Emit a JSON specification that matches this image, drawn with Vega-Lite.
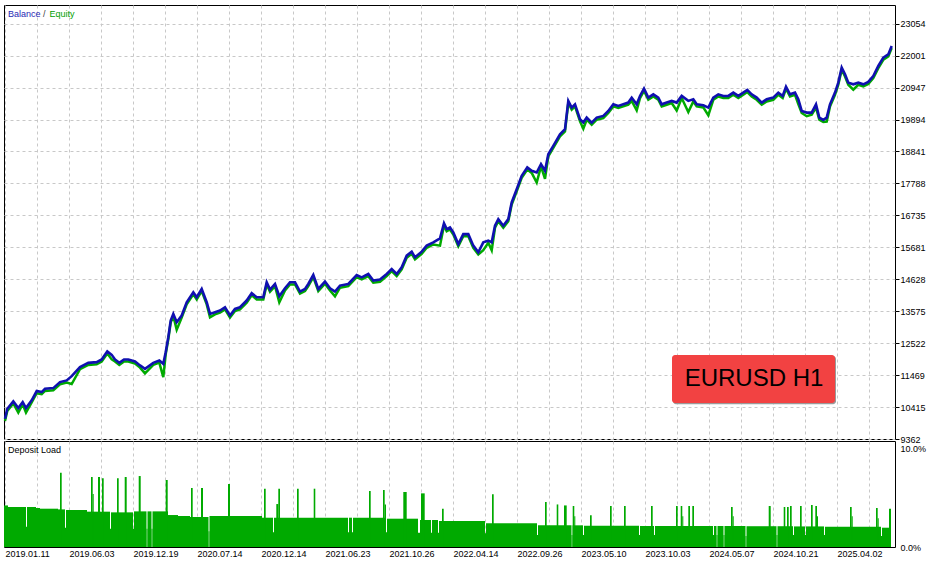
{
  "$schema": "https://vega.github.io/schema/vega-lite/v6.json",
  "padding": {"left": -1, "top": 4, "right": 0, "bottom": 0},
  "background": "white",
  "spacing": 2,
  "bounds": "flush",
  "config": {
    "view": {"stroke": "#000000", "strokeWidth": 1},
    "axis": {"labelFont": "Liberation Sans", "labelFontSize": 9, "labelColor": "#000000", "titleFont": "Liberation Sans", "labelOverlap": false},
    "text": {"font": "Liberation Sans"}
  },
  "datasets": {
    "curve": [
      {"n":5,"balance":10030,"equity":9960},{"n":7.3,"balance":10359,"equity":10289},{"n":13.3,"balance":10603,"equity":10533},{"n":18.3,"balance":10382,"equity":10232},{"n":22.7,"balance":10580,"equity":10510},{"n":26,"balance":10382,"equity":10232},{"n":31.7,"balance":10636,"equity":10566},{"n":36.7,"balance":10942,"equity":10872},{"n":41.7,"balance":10909,"equity":10839},{"n":45,"balance":11017,"equity":10947},{"n":53.3,"balance":11040,"equity":10970},{"n":60,"balance":11238,"equity":11168},{"n":66.7,"balance":11294,"equity":11224},{"n":71.7,"balance":11435,"equity":11175},{"n":80,"balance":11732,"equity":11662},{"n":88.3,"balance":11873,"equity":11803},{"n":96.7,"balance":11896,"equity":11826},{"n":101.7,"balance":11985,"equity":11915},{"n":107.3,"balance":12248,"equity":12178},{"n":111.7,"balance":12136,"equity":11986},{"n":115,"balance":11985,"equity":11915},{"n":119.3,"balance":11873,"equity":11803},{"n":124,"balance":11985,"equity":11915},{"n":128.3,"balance":11985,"equity":11915},{"n":135,"balance":11919,"equity":11849},{"n":140,"balance":11787,"equity":11717},{"n":145,"balance":11676,"equity":11526},{"n":153.3,"balance":11873,"equity":11803},{"n":159.3,"balance":11952,"equity":11882},{"n":163.3,"balance":11840,"equity":11400},{"n":165.7,"balance":12225,"equity":12155},{"n":168.3,"balance":12719,"equity":12649},{"n":170.7,"balance":13268,"equity":13198},{"n":173.3,"balance":13486,"equity":13416},{"n":176.7,"balance":13212,"equity":12962},{"n":181.7,"balance":13433,"equity":13363},{"n":186.7,"balance":13871,"equity":13801},{"n":193.3,"balance":14200,"equity":14130},{"n":196.7,"balance":14035,"equity":13965},{"n":201.7,"balance":14308,"equity":14238},{"n":206.7,"balance":13871,"equity":13801},{"n":210,"balance":13486,"equity":13376},{"n":215,"balance":13542,"equity":13472},{"n":220,"balance":13597,"equity":13527},{"n":225,"balance":13706,"equity":13636},{"n":230,"balance":13433,"equity":13363},{"n":235,"balance":13650,"equity":13580},{"n":240,"balance":13706,"equity":13636},{"n":246.7,"balance":13927,"equity":13857},{"n":251.7,"balance":14167,"equity":14097},{"n":256.7,"balance":14035,"equity":13965},{"n":263.3,"balance":14035,"equity":13965},{"n":266.7,"balance":14529,"equity":14459},{"n":270,"balance":14289,"equity":14219},{"n":275,"balance":14473,"equity":14403},{"n":279.3,"balance":14068,"equity":13868},{"n":285,"balance":14331,"equity":14261},{"n":290,"balance":14529,"equity":14459},{"n":295,"balance":14529,"equity":14459},{"n":300,"balance":14223,"equity":14153},{"n":305,"balance":14308,"equity":14238},{"n":308.3,"balance":14473,"equity":14403},{"n":313.3,"balance":14769,"equity":14699},{"n":318.3,"balance":14308,"equity":14238},{"n":325,"balance":14552,"equity":14482},{"n":330,"balance":14331,"equity":14261},{"n":335,"balance":14223,"equity":14068},{"n":340,"balance":14420,"equity":14350},{"n":348.3,"balance":14473,"equity":14403},{"n":356.7,"balance":14769,"equity":14699},{"n":361.7,"balance":14693,"equity":14623},{"n":368.3,"balance":14802,"equity":14732},{"n":373.3,"balance":14585,"equity":14515},{"n":380,"balance":14618,"equity":14548},{"n":386.7,"balance":14802,"equity":14732},{"n":391.7,"balance":14967,"equity":14897},{"n":396.7,"balance":14802,"equity":14732},{"n":401.7,"balance":15023,"equity":14953},{"n":406.7,"balance":15407,"equity":15337},{"n":411.7,"balance":15539,"equity":15469},{"n":415,"balance":15352,"equity":15282},{"n":421.7,"balance":15539,"equity":15469},{"n":426.7,"balance":15737,"equity":15667},{"n":433.3,"balance":15845,"equity":15775},{"n":440,"balance":15977,"equity":15737},{"n":444,"balance":16471,"equity":16401},{"n":446.7,"balance":16283,"equity":16213},{"n":450,"balance":16339,"equity":16269},{"n":453.3,"balance":16174,"equity":16104},{"n":458.3,"balance":15789,"equity":15719},{"n":463.3,"balance":16118,"equity":16048},{"n":468.3,"balance":16118,"equity":16048},{"n":473.3,"balance":15737,"equity":15667},{"n":478.3,"balance":15516,"equity":15446},{"n":483.3,"balance":15845,"equity":15585},{"n":488.3,"balance":15901,"equity":15831},{"n":491.7,"balance":15845,"equity":15585},{"n":495,"balance":16395,"equity":16325},{"n":498.3,"balance":16612,"equity":16542},{"n":503.3,"balance":16395,"equity":16325},{"n":508.3,"balance":16612,"equity":16542},{"n":511.7,"balance":17162,"equity":17092},{"n":516.7,"balance":17599,"equity":17529},{"n":521.7,"balance":18040,"equity":17970},{"n":527.3,"balance":18314,"equity":18244},{"n":531.7,"balance":18205,"equity":18135},{"n":536.7,"balance":18149,"equity":17820},{"n":541,"balance":18422,"equity":18352},{"n":545,"balance":18205,"equity":17940},{"n":548.3,"balance":18751,"equity":18681},{"n":553.3,"balance":19028,"equity":18958},{"n":560,"balance":19409,"equity":19339},{"n":565,"balance":19574,"equity":19504},{"n":568.3,"balance":20509,"equity":20439},{"n":571.7,"balance":20288,"equity":20218},{"n":575,"balance":20397,"equity":20327},{"n":580,"balance":19903,"equity":19833},{"n":583.3,"balance":19794,"equity":19594},{"n":586.7,"balance":19959,"equity":19889},{"n":591.7,"balance":19794,"equity":19724},{"n":596.7,"balance":19959,"equity":19889},{"n":603.3,"balance":20015,"equity":19945},{"n":608.3,"balance":20179,"equity":20109},{"n":613.3,"balance":20397,"equity":20327},{"n":618.3,"balance":20344,"equity":20274},{"n":623.3,"balance":20397,"equity":20327},{"n":628.3,"balance":20453,"equity":20383},{"n":631.7,"balance":20617,"equity":20507},{"n":636.7,"balance":20397,"equity":20197},{"n":640,"balance":20673,"equity":20603},{"n":644,"balance":20913,"equity":20843},{"n":648.3,"balance":20617,"equity":20547},{"n":653.3,"balance":20726,"equity":20656},{"n":658.3,"balance":20617,"equity":20547},{"n":661.7,"balance":20397,"equity":20327},{"n":666.7,"balance":20453,"equity":20383},{"n":671.7,"balance":20509,"equity":20439},{"n":676.7,"balance":20453,"equity":20193},{"n":681.7,"balance":20673,"equity":20603},{"n":688.3,"balance":20509,"equity":20139},{"n":693.3,"balance":20561,"equity":20491},{"n":696.7,"balance":20397,"equity":20327},{"n":703.3,"balance":20364,"equity":20294},{"n":708.3,"balance":20288,"equity":20035},{"n":713.3,"balance":20617,"equity":20547},{"n":718.3,"balance":20726,"equity":20656},{"n":723.3,"balance":20673,"equity":20603},{"n":728.3,"balance":20673,"equity":20603},{"n":733.3,"balance":20782,"equity":20712},{"n":738.3,"balance":20673,"equity":20603},{"n":743.3,"balance":20782,"equity":20712},{"n":747.3,"balance":20871,"equity":20801},{"n":751.7,"balance":20726,"equity":20656},{"n":756.7,"balance":20617,"equity":20547},{"n":761.7,"balance":20453,"equity":20383},{"n":766.7,"balance":20561,"equity":20491},{"n":773.3,"balance":20617,"equity":20547},{"n":778.3,"balance":20782,"equity":20712},{"n":782.7,"balance":20673,"equity":20603},{"n":786,"balance":20979,"equity":20909},{"n":790,"balance":20726,"equity":20656},{"n":795,"balance":20782,"equity":20712},{"n":798.3,"balance":20561,"equity":20401},{"n":801.7,"balance":20179,"equity":20109},{"n":806.7,"balance":20124,"equity":20004},{"n":811.7,"balance":20124,"equity":20054},{"n":816,"balance":20397,"equity":20287},{"n":819.3,"balance":19959,"equity":19889},{"n":823.3,"balance":19883,"equity":19813},{"n":826.7,"balance":19959,"equity":19828},{"n":830,"balance":20397,"equity":20327},{"n":835,"balance":20782,"equity":20712},{"n":838.3,"balance":21111,"equity":21041},{"n":841.7,"balance":21605,"equity":21535},{"n":845,"balance":21384,"equity":21314},{"n":848.3,"balance":21111,"equity":21041},{"n":853.3,"balance":21055,"equity":20880},{"n":858.3,"balance":21111,"equity":21041},{"n":863.3,"balance":21055,"equity":20985},{"n":868.3,"balance":21134,"equity":21064},{"n":873.3,"balance":21331,"equity":21261},{"n":878.3,"balance":21660,"equity":21590},{"n":883.3,"balance":21934,"equity":21864},{"n":888.3,"balance":22042,"equity":21972},{"n":891.7,"balance":22319,"equity":22249}
    ],
    "load": [
      {"a":4,"b":8,"load":4.2},{"a":8,"b":26,"load":4.04},{"a":26,"b":27,"load":2.05},{"a":27,"b":36,"load":4.04},{"a":36,"b":40,"load":3.94},{"a":40,"b":58,"load":3.87},{"a":58,"b":65,"load":3.8},{"a":65,"b":66,"load":1.95},{"a":66,"b":87,"load":3.74},{"a":87,"b":110,"load":3.57},{"a":110,"b":111,"load":1.85},{"a":111,"b":133,"load":3.5},{"a":133,"b":134,"load":1.85},{"a":134,"b":146.5,"load":3.6},{"a":146.5,"b":147.5,"load":1.85},{"a":147.5,"b":151.5,"load":3.6},{"a":151.5,"b":152.5,"load":1.85},{"a":152.5,"b":168,"load":3.6},{"a":168,"b":178,"load":3.23},{"a":178,"b":190,"load":3.13},{"a":190,"b":208.5,"load":3.03},{"a":208.5,"b":209.5,"load":1.6},{"a":209.5,"b":262,"load":3.13},{"a":262,"b":273,"load":2.96},{"a":273,"b":274,"load":1.5},{"a":274,"b":348,"load":2.96},{"a":348,"b":349,"load":1.5},{"a":349,"b":352,"load":2.96},{"a":352,"b":353,"load":1.5},{"a":353,"b":386,"load":2.96},{"a":386,"b":387,"load":1.5},{"a":387,"b":418,"load":2.86},{"a":418,"b":420,"load":1.45},{"a":420,"b":431,"load":2.73},{"a":431,"b":432,"load":1.45},{"a":432,"b":438,"load":2.73},{"a":438,"b":439,"load":1.45},{"a":439,"b":485,"load":2.63},{"a":485,"b":486,"load":1.4},{"a":486,"b":537,"load":2.39},{"a":537,"b":538,"load":1.2},{"a":538,"b":571.5,"load":2.19},{"a":571.5,"b":572.5,"load":1.2},{"a":572.5,"b":583,"load":2.19},{"a":583,"b":584,"load":1.2},{"a":584,"b":639,"load":2.15},{"a":639,"b":640,"load":1.2},{"a":640,"b":654,"load":2.12},{"a":654,"b":655,"load":1.2},{"a":655,"b":713,"load":2.12},{"a":713,"b":714,"load":1.2},{"a":714,"b":716.5,"load":2.12},{"a":716.5,"b":717.5,"load":1.2},{"a":717.5,"b":723.5,"load":2.12},{"a":723.5,"b":724.5,"load":1.2},{"a":724.5,"b":745.5,"load":2.12},{"a":745.5,"b":746.5,"load":1.1},{"a":746.5,"b":776.5,"load":2.1},{"a":776.5,"b":777.5,"load":1.2},{"a":777.5,"b":793,"load":2.1},{"a":793,"b":794,"load":1.2},{"a":794,"b":805,"load":2.08},{"a":805,"b":806,"load":1.2},{"a":806,"b":824,"load":2.08},{"a":824,"b":825,"load":1.2},{"a":825,"b":881,"load":2.05},{"a":881,"b":882,"load":1.1},{"a":882,"b":889,"load":1.95},{"a":889,"b":891,"load":3.87},
      {"a":60,"b":61.7,"load":7.5},{"a":91,"b":92.7,"load":7.07},{"a":92.7,"b":93.7,"load":5.35},{"a":98,"b":100,"load":7.07},{"a":102,"b":103.7,"load":6.94},{"a":117,"b":118.7,"load":6.94},{"a":124.7,"b":126.7,"load":7.07},{"a":138.7,"b":140.7,"load":7.17},{"a":165.7,"b":167.7,"load":6.77},{"a":191,"b":192.7,"load":5.96},{"a":201,"b":203,"load":5.96},{"a":228,"b":230,"load":6.36},{"a":264,"b":265.7,"load":5.89},{"a":276.3,"b":278.3,"load":4.34},{"a":278.3,"b":280,"load":5.89},{"a":297,"b":298.7,"load":5.89},{"a":313.7,"b":315.3,"load":5.89},{"a":369,"b":370.7,"load":5.65},{"a":383,"b":384.7,"load":5.76},{"a":384.7,"b":386,"load":4.3},{"a":403.3,"b":406.7,"load":5.56},{"a":421,"b":424.7,"load":5.42},{"a":442,"b":443.7,"load":3.87},{"a":492,"b":493.7,"load":5.32},{"a":545,"b":546.7,"load":4.55},{"a":556.7,"b":558.3,"load":4.3},{"a":564,"b":566.7,"load":4.2},{"a":572.7,"b":574.3,"load":4.14},{"a":574.3,"b":575.3,"load":3.1},{"a":590,"b":591.7,"load":3.2},{"a":610,"b":611.7,"load":4.14},{"a":624,"b":625.7,"load":4.14},{"a":651,"b":652.7,"load":4.14},{"a":676,"b":677.7,"load":4.14},{"a":680.7,"b":682.3,"load":4.14},{"a":682.3,"b":683.3,"load":3.1},{"a":688.3,"b":690,"load":4.14},{"a":692.3,"b":694,"load":4.14},{"a":731,"b":732.7,"load":4.04},{"a":732.7,"b":733.7,"load":3.1},{"a":768.7,"b":770.7,"load":4.14},{"a":783.7,"b":785.3,"load":4.04},{"a":787,"b":788.7,"load":4.04},{"a":790,"b":791.7,"load":4.14},{"a":800,"b":801.7,"load":4.14},{"a":811,"b":812.7,"load":4.24},{"a":815.3,"b":817,"load":4.14},{"a":817,"b":818,"load":3.1},{"a":850,"b":851.7,"load":4.04},{"a":851.7,"b":852.7,"load":3.1},{"a":876,"b":877.7,"load":3.94},{"a":877.7,"b":878.7,"load":2.9}
    ]
  },
  "vconcat": [
    {
      "width": 891,
      "height": 434,
      "layer": [
        {
          "data": {"name": "curve"},
          "mark": {"type": "line", "color": "#00aa00", "strokeWidth": 2.5},
          "encoding": {
            "x": {"field": "n", "type": "quantitative", "scale": {"domain": [4, 895], "nice": false, "zero": false},
              "axis": {"title": null, "values": [5,37,69,101,133,165,197,229,261,293,325,357,389,421,453,485,517,549,581,613,645,677,709,741,773,805,837,869], "tickCount": 60, "grid": true, "gridDash": [3,3], "gridColor": "#c8c8c8", "labels": false, "ticks": false, "domain": false}},
            "y": {"field": "equity", "type": "quantitative", "scale": {"domain": [9362, 23671], "nice": false, "zero": false},
              "axis": {"title": null, "orient": "right", "values": [9362,10415,11469,12522,13575,14628,15681,16735,17788,18841,19894,20947,22001,23054], "tickCount": 40, "format": "d", "grid": true, "gridDash": [3,3], "gridColor": "#c8c8c8", "domain": false, "tickSize": 4, "tickColor": "#000000", "labelPadding": 1, "labelOverlap": false, "labelFlush": false, "labelBound": false}}
          }
        },
        {
          "data": {"name": "curve"},
          "mark": {"type": "line", "color": "#1010b0", "strokeWidth": 2.6},
          "encoding": {
            "x": {"field": "n", "type": "quantitative"},
            "y": {"field": "balance", "type": "quantitative"}
          }
        },
        {
          "data": {"values": [{"label": "EURUSD H1"}]},
          "mark": {"type": "rect", "color": "#9a9a9a", "cornerRadius": 3},
          "encoding": {"x": {"datum": 673}, "x2": {"datum": 836}, "y": {"datum": 10510}, "y2": {"datum": 12100}}
        },
        {
          "data": {"values": [{"label": "EURUSD H1"}]},
          "mark": {"type": "rect", "color": "#f24242", "cornerRadius": 3},
          "encoding": {"x": {"datum": 672}, "x2": {"datum": 835}, "y": {"datum": 10549}, "y2": {"datum": 12131}}
        },
        {
          "data": {"values": [{"label": "EURUSD H1"}]},
          "mark": {"type": "text", "fontSize": 24, "color": "#000000", "align": "center", "baseline": "middle", "font": "Liberation Sans"},
          "encoding": {"x": {"datum": 754}, "y": {"datum": 11340}, "text": {"field": "label"}}
        },
        {
          "data": {"values": [{"label": "Balance"}]},
          "mark": {"type": "text", "fontSize": 9, "color": "#2828b4", "align": "left", "baseline": "middle"},
          "encoding": {"x": {"datum": 8}, "y": {"datum": 23374}, "text": {"field": "label"}}
        },
        {
          "data": {"values": [{"label": "/"}]},
          "mark": {"type": "text", "fontSize": 9, "color": "#404040", "align": "left", "baseline": "middle"},
          "encoding": {"x": {"datum": 43}, "y": {"datum": 23374}, "text": {"field": "label"}}
        },
        {
          "data": {"values": [{"label": "Equity"}]},
          "mark": {"type": "text", "fontSize": 9, "color": "#00a000", "align": "left", "baseline": "middle"},
          "encoding": {"x": {"datum": 49.5}, "y": {"datum": 23374}, "text": {"field": "label"}}
        }
      ]
    },
    {
      "width": 891,
      "height": 106,
      "layer": [
        {
          "data": {"name": "load"},
          "mark": {"type": "rect", "color": "#00aa00"},
          "encoding": {
            "x": {"field": "a", "type": "quantitative", "scale": {"domain": [4, 895], "nice": false, "zero": false},
              "axis": {"title": null, "values": [5,37,69,101,133,165,197,229,261,293,325,357,389,421,453,485,517,549,581,613,645,677,709,741,773,805,837,869], "tickCount": 60, "grid": true, "gridDash": [3,3], "gridColor": "#c8c8c8", "ticks": false, "domain": false, "labelAlign": "left", "labelOverlap": false, "labelFlush": false, "labelBound": false, "labelPadding": 2, "labelDx": 1,
                "labelExpr": "(datum.value - 5) % 64 == 0 ? ['2019.01.11','2019.06.03','2019.12.19','2020.07.14','2020.12.14','2021.06.23','2021.10.26','2022.04.14','2022.09.26','2023.05.10','2023.10.03','2024.05.07','2024.10.21','2025.04.02'][(datum.value - 5) / 64] : ''"}},
            "x2": {"field": "b"},
            "y": {"field": "load", "type": "quantitative", "scale": {"domain": [0, 10.71], "nice": false},
              "axis": {"title": null, "orient": "right", "values": [0, 10], "tickCount": 10, "labelExpr": "format(datum.value, '.1f') + '%'", "grid": false, "ticks": false, "domain": false, "labelPadding": 5, "labelOverlap": false}},
            "y2": {"datum": 0}
          }
        },
        {
          "data": {"values": [{"label": "Deposit Load"}]},
          "mark": {"type": "text", "fontSize": 9, "color": "#000000", "align": "left", "baseline": "middle"},
          "encoding": {"x": {"datum": 8}, "y": {"datum": 9.8}, "text": {"field": "label"}}
        }
      ]
    }
  ]
}
